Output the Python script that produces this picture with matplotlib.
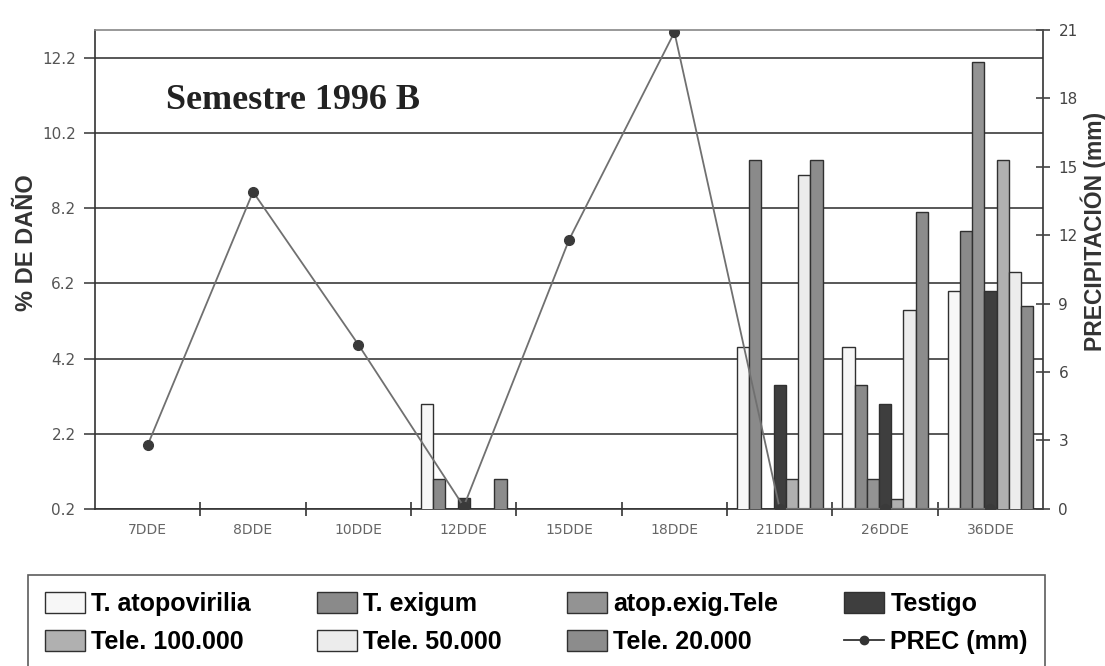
import numpy as np
import matplotlib
matplotlib.use("Agg")
import matplotlib.pyplot as plt
from matplotlib.patches import Patch
from matplotlib.lines import Line2D

categories = ["7DDE", "8DDE", "10DDE", "12DDE", "15DDE", "18DDE", "21DDE", "26DDE", "36DDE"]

# % de daño por tratamiento (0 = sin barra)
atopovirilia = [0, 0, 0, 3.0, 0, 0, 4.5, 4.5, 6.0]
exigum = [0, 0, 0, 1.0, 0, 0, 9.5, 3.5, 7.6]
atop_exig_tele = [0, 0, 0, 0, 0, 0, 0, 1.0, 12.1]
testigo = [0, 0, 0, 0.5, 0, 0, 3.5, 3.0, 6.0]
tele_100 = [0, 0, 0, 0, 0, 0, 1.0, 0.45, 9.5]
tele_50 = [0, 0, 0, 0, 0, 0, 9.1, 5.5, 6.5]
tele_20 = [0, 0, 0, 1.0, 0, 0, 9.5, 8.1, 5.6]

prec = [2.8, 13.9, 7.2, 0.1, 11.8, 20.9, 0, 0, 0]

series = [
    ("T. atopovirilia", atopovirilia, "#f7f7f7"),
    ("T. exigum", exigum, "#8a8a8a"),
    ("atop.exig.Tele", atop_exig_tele, "#939393"),
    ("Testigo", testigo, "#3e3e3e"),
    ("Tele. 100.000", tele_100, "#b0b0b0"),
    ("Tele. 50.000", tele_50, "#ececec"),
    ("Tele. 20.000", tele_20, "#8c8c8c"),
]

fig = plt.figure(figsize=(11.05, 6.66), dpi=100)
ax = fig.add_axes([0.086, 0.236, 0.858, 0.719])

x = np.arange(len(categories))
w = 0.116
handles = []
for i, (name, vals, col) in enumerate(series):
    ax.bar(x + (i - 3) * w, vals, width=w, color=col, edgecolor="#303030",
           linewidth=1.0, zorder=3)
    handles.append(Patch(facecolor=col, edgecolor="#303030", label=name))

ax.set_ylim(0.2, 12.95)
ax.set_xlim(-0.5, len(categories) - 0.5)
ax.set_yticks([0.2, 2.2, 4.2, 6.2, 8.2, 10.2, 12.2])
ax.set_yticklabels(["0.2", "2.2", "4.2", "6.2", "8.2", "10.2", "12.2"])
ax.yaxis.grid(True, color="#4a4a4a", linewidth=1.3, zorder=0)
ax.set_axisbelow(True)
ax.tick_params(axis="y", direction="out", length=8, width=1.2, color="#444444",
               labelsize=11, labelcolor="#555555", pad=6)
ax.set_xticks(x)
ax.set_xticklabels(categories)
ax.set_xticks(np.arange(len(categories) - 1) + 0.5, minor=True)
ax.tick_params(axis="x", which="major", length=0, labelsize=10,
               labelcolor="#666666", pad=10)
ax.tick_params(axis="x", which="minor", direction="inout", length=10, width=1.2,
               color="#333333")
for s in ax.spines.values():
    s.set_color("#333333")
    s.set_linewidth(1.2)
ax.spines["top"].set_color("#888888")
ax.set_ylabel("% DE DAÑO", fontsize=17, fontweight="bold", color="#333333",
              fontfamily="Liberation Sans")
ax.yaxis.set_label_coords(-0.06, 0.555)

ax2 = ax.twinx()
ax2.set_ylim(0, 21)
ax2.set_yticks(range(0, 22, 3))
ax2.tick_params(axis="y", direction="inout", length=10, width=1.2, color="#444444",
                labelsize=11, labelcolor="#444444", pad=6)
ax2.plot(x, prec, color="#707070", linewidth=1.3, marker="o", markersize=7,
         markerfacecolor="#3a3a3a", markeredgecolor="#3a3a3a", zorder=5)
for s in ax2.spines.values():
    s.set_visible(False)
ax2.set_ylabel("PRECIPITACIÓN (mm)", fontsize=16.5, fontweight="bold", color="#333333",
               fontfamily="Liberation Sans")
ax2.yaxis.set_label_coords(1.039, 0.58)

ax.text(0.075, 0.835, "Semestre 1996 B", transform=ax.transAxes,
        fontfamily="Liberation Serif", fontsize=26, fontweight="bold", color="#222222")

handles.append(Line2D([0], [0], color="#333333", linewidth=1.3, marker="o",
                      markersize=6, label="PREC (mm)"))
order = [0, 4, 1, 5, 2, 6, 3, 7]
leg = fig.legend([handles[k] for k in order], [handles[k].get_label() for k in order],
                 loc="upper left", bbox_to_anchor=(0.025, -0.05, 0.921, 0.187),
                 mode="expand", ncol=4, frameon=True, fancybox=False,
                 handlelength=1.6, handleheight=0.9, handletextpad=0.25,
                 borderaxespad=0, labelspacing=0.55, borderpad=0.7,
                 prop={"family": "Liberation Sans", "weight": "bold", "size": 18})
leg.get_frame().set_edgecolor("#333333")
leg.get_frame().set_linewidth(1.2)

fig.savefig("out.png", dpi=100)
